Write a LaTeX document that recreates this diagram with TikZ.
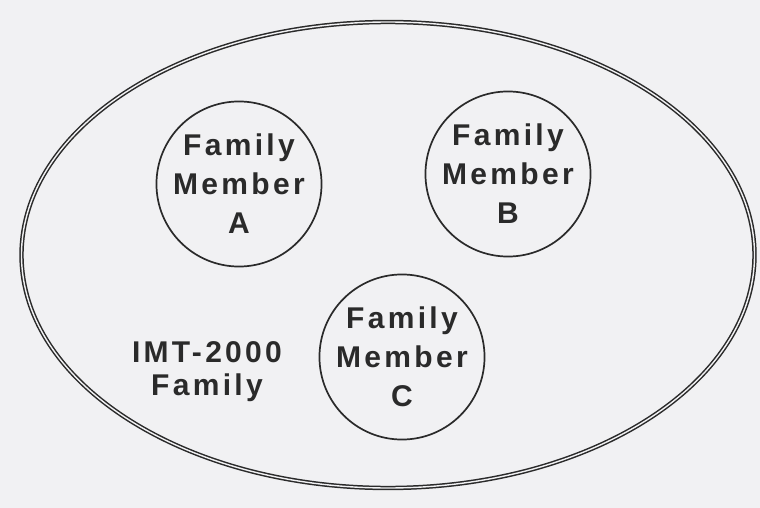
\documentclass[tikz,border=0pt]{standalone}
\usepackage{fontspec}
\setmainfont{Liberation Sans}
\newfontfamily\lblfont[LetterSpace=11]{Liberation Sans}
\usetikzlibrary{shapes.geometric}
\definecolor{bg}{HTML}{F1F1F3}
\definecolor{ink}{HTML}{2A2A2A}
\begin{document}
\begin{tikzpicture}[x=1pt,y=-1pt,
  member/.style={circle, draw=ink, line width=1.7pt, minimum size=158pt, inner sep=0pt,
    align=center, text=ink, font=\lblfont\bfseries\fontsize{30}{39}\selectfont},
  label/.style={align=center, text=ink, font=\lblfont\bfseries\fontsize{30}{33}\selectfont}]
\fill[bg] (0,0) rectangle (760,508);
\useasboundingbox (0,0) rectangle (760,508);
\node[ellipse, draw=ink, line width=1.5pt, double=bg, double distance=1.4pt,
  minimum width=733pt, minimum height=466pt, inner sep=0pt] (outer) at (388,255) {};
\node[member] (A) at (239,184) {Family\\Member\\A};
\node[member] (B) at (508,174) {Family\\Member\\B};
\node[member] (C) at (402,357) {Family\\Member\\C};
\node[label] (imt) at (207,372) {IMT-2000\\Family};
\end{tikzpicture}
\end{document}
